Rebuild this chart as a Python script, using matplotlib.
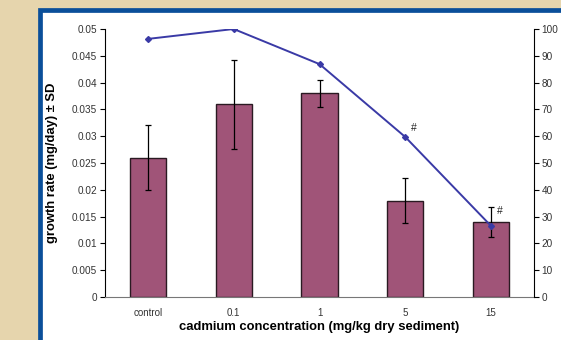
import matplotlib.pyplot as plt
from matplotlib.patches import Rectangle
import numpy as np

# growth rate bars with SD, survival line on the second axis
conc = ["control", "0.1", "1", "5", "15"]
growth = [0.026, 0.036, 0.038, 0.018, 0.014]
growth_sd = [0.0061, 0.0083, 0.0025, 0.0042, 0.0028]
survival = [96.3, 100, 86.9, 59.7, 26.5]
marked = [3, 4]  # significant groups (#)
mark_y = [63, 32]

plt.rcParams['font.family'] = ['Liberation Sans', 'DejaVu Sans']

fig = plt.figure(figsize=(5.61, 3.40), dpi=100, facecolor="#e6d5ad")

# white panel with blue border, behind the axes
fig.patches.append(Rectangle((39.5 / 561, -0.2), 1.2, (340 - 10) / 340 + 0.2,
                             transform=fig.transFigure, facecolor="white",
                             edgecolor="#0a4f9a", linewidth=3.4, zorder=-1))

ax = fig.add_axes([105 / 561, 43 / 340, 429 / 561, 268 / 340])
ax.set_facecolor("none")
x = np.arange(len(conc))
ax.bar(x, growth, width=0.42, color="#a05478", edgecolor="#2a1a22", linewidth=1.0, zorder=2)
ax.errorbar(x, growth, yerr=growth_sd, fmt="none", ecolor="black", elinewidth=0.9,
            capsize=2.5, capthick=0.9, zorder=3)
ax.set_xlim(-0.5, len(conc) - 0.5)
ax.set_ylim(0, 0.05)
ax.set_yticks(np.arange(0, 0.0501, 0.005))
ax.set_yticklabels(["0"] + [f"{v:g}" for v in np.arange(0.005, 0.0501, 0.005)])
ax.set_xticks(x)
ax.set_xticklabels(conc)
ax.tick_params(axis="x", length=0, labelsize=7, pad=8, colors="#333333")
ax.tick_params(axis="y", length=3.5, width=0.8, labelsize=7.2, pad=2, colors="#333333")
ax.tick_params(axis="y", color="black")
ax.spines["top"].set_visible(False)
ax.spines["right"].set_visible(False)
ax.spines["bottom"].set_color("#777777")
ax.spines["left"].set_linewidth(0.8)
ax.set_xlabel("cadmium concentration (mg/kg dry sediment)", fontsize=9.4,
              fontweight="bold", labelpad=2)
ax.set_ylabel("growth rate (mg/day) ± SD", fontsize=9.4, fontweight="bold", labelpad=10)

ax2 = ax.twinx()
ax2.plot(x, survival, color="#3a3aa6", linewidth=1.4, marker="D", markersize=3,
         zorder=4)
ax2.set_ylim(0, 100)
ax2.set_yticks(np.arange(0, 101, 10))
ax2.tick_params(axis="y", length=3.5, width=0.8, labelsize=7.2, pad=2, colors="#333333")
ax2.tick_params(axis="y", color="black")
for s in ["top", "left", "bottom"]:
    ax2.spines[s].set_visible(False)
ax2.spines["right"].set_linewidth(0.8)
ax2.set_ylabel("mean % survival", fontsize=9.4, fontweight="bold", labelpad=3)

for i, yy in zip(marked, mark_y):
    ax2.text(i + 0.1, yy, "#", fontsize=7.5, color="#222222", ha="center", va="center")

fig.savefig("out.png", dpi=100, facecolor=fig.get_facecolor())
